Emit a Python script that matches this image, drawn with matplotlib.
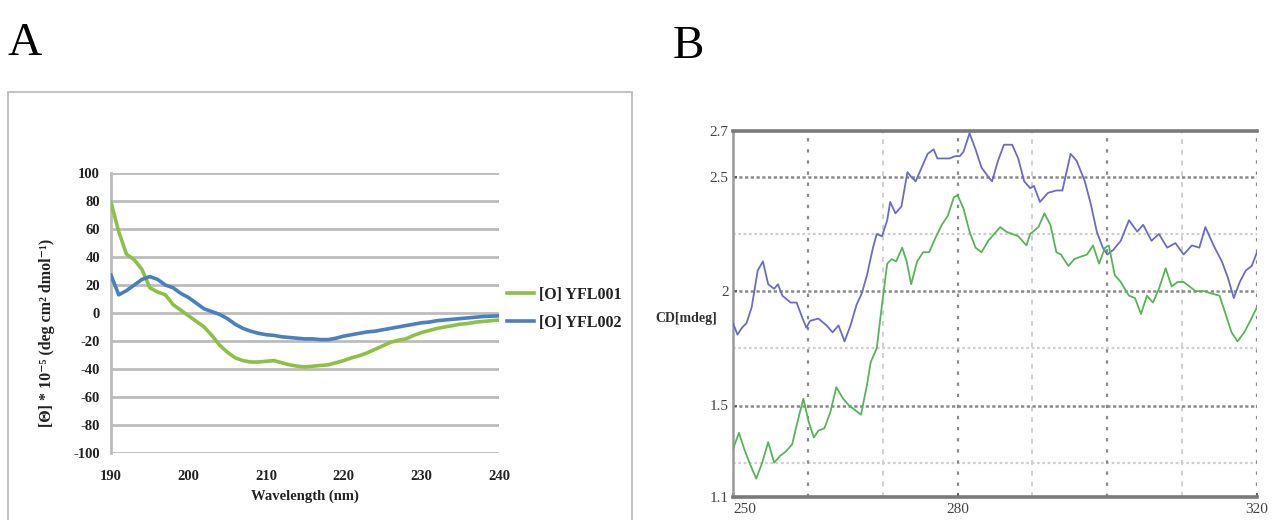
import matplotlib
matplotlib.use("Agg")
import matplotlib.pyplot as plt
from matplotlib import font_manager
from matplotlib.patches import Rectangle

plt.rcParams["axes.unicode_minus"] = False

# ---------------- Data: panel A ----------------
wl_a = list(range(190, 241))
yfl001 = [79, 58, 42, 38, 31, 18, 15, 13, 6, 2,
          -2, -6, -10, -16, -23, -28, -32, -34, -35, -35,
          -34.5, -34, -35.5, -37, -38, -38.5, -38, -37.5, -37, -35.5,
          -34, -32, -30.5, -28.5, -26, -23.5, -21, -19.5, -18.5, -16,
          -14, -12.5, -11, -10, -9, -8, -7.5, -6.5, -6, -5.5, -5]
yfl002 = [27, 13, 16, 20, 24, 26, 24, 20, 18, 14,
          11, 7, 3, 1, -1, -4, -8, -11, -13, -14.5,
          -15.5, -16, -17, -17.5, -18, -18.5, -18.5, -19, -19, -18,
          -16.5, -15.5, -14.5, -13.5, -13, -12, -11, -10, -9, -8,
          -7, -6.5, -5.5, -5, -4.5, -4, -3.5, -3, -2.5, -2.3, -2]
labels_a = ["[O] YFL001", "[O] YFL002"]
xticks_a = [190, 200, 210, 220, 230, 240]
yticks_a = [100, 80, 60, 40, 20, 0, -20, -40, -60, -80, -100]

# ---------------- Data: panel B ----------------
wl_blue = [250, 250.6, 251.2, 251.8, 252.5, 253.3, 254, 254.7, 255.5, 256, 256.6, 257.7,
           258.5, 259.3, 259.8, 260.3, 261.4, 262.5, 263.3, 264.1, 264.9, 265.7, 266.5,
           267.2, 267.9, 268.7, 269.2, 269.9, 270.6, 271, 271.7, 272.5, 273.3, 273.8,
           274.4, 275.2, 276, 276.8, 277.3, 278.1, 278.9, 279.7, 280.3, 280.8, 281.6,
           282.4, 283.2, 284.1, 284.6, 285.4, 286.2, 287.3, 288.1, 288.9, 289.7, 290.2,
           291, 292.1, 293.2, 294, 295.1, 295.9, 297, 297.8, 298.6, 299.4, 300, 300.8,
           301.8, 302.9, 304, 304.8, 305.9, 306.9, 308, 309.1, 310.2, 311.3, 312.3,
           313.1, 314.2, 315.3, 316.1, 316.9, 317.7, 318.5, 319.3, 320]
cd_blue = [1.86, 1.81, 1.84, 1.86, 1.93, 2.09, 2.13, 2.03, 2.01, 2.03, 1.98, 1.95,
           1.95, 1.88, 1.84, 1.87, 1.88, 1.85, 1.82, 1.85, 1.78, 1.85, 1.94,
           1.99, 2.07, 2.19, 2.25, 2.24, 2.31, 2.39, 2.34, 2.37, 2.52, 2.50,
           2.48, 2.54, 2.60, 2.62, 2.58, 2.58, 2.58, 2.59, 2.59, 2.61, 2.69,
           2.62, 2.54, 2.50, 2.48, 2.57, 2.64, 2.64, 2.58, 2.48, 2.45, 2.46,
           2.39, 2.43, 2.44, 2.44, 2.60, 2.57, 2.48, 2.38, 2.26, 2.19, 2.16, 2.18,
           2.22, 2.31, 2.26, 2.29, 2.22, 2.25, 2.19, 2.21, 2.16, 2.20, 2.19,
           2.28, 2.20, 2.13, 2.06, 1.97, 2.04, 2.09, 2.11, 2.17]
wl_green = [250, 250.8, 251.5, 252.2, 253.1, 253.9, 254.7, 255.5, 256.3, 257.1, 257.9,
            258.7, 259.4, 260.1, 260.8, 261.4, 262.2, 263, 263.8, 264.7, 265.5, 266.3,
            267.1, 267.9, 268.4, 269.2, 269.9, 270.6, 271.2, 271.8, 272.6, 273.2, 273.8,
            274.6, 275.4, 276.2, 277, 277.9, 278.7, 279.5, 280, 280.8, 281.6, 282.4,
            283.2, 284.1, 284.9, 285.7, 286.5, 287.3, 288.1, 289.2, 289.7, 290.8, 291.6,
            292.4, 293.2, 293.8, 294.8, 295.6, 296.4, 297.3, 298.1, 298.9, 299.7, 300.2,
            301, 301.8, 302.9, 303.7, 304.5, 305.3, 306.1, 306.9, 307.8, 308.6, 309.4,
            310.2, 311, 311.8, 312.9, 313.9, 315, 315.8, 316.6, 317.4, 318.3, 319.1, 320]
cd_green = [1.31, 1.38, 1.31, 1.25, 1.18, 1.25, 1.34, 1.25, 1.28, 1.30, 1.33,
            1.44, 1.53, 1.43, 1.36, 1.39, 1.40, 1.47, 1.58, 1.53, 1.50, 1.48,
            1.46, 1.59, 1.69, 1.75, 1.94, 2.12, 2.14, 2.13, 2.19, 2.13, 2.03,
            2.13, 2.17, 2.17, 2.23, 2.29, 2.33, 2.41, 2.42, 2.36, 2.26, 2.19,
            2.17, 2.22, 2.25, 2.28, 2.26, 2.25, 2.24, 2.20, 2.25, 2.28, 2.34,
            2.29, 2.17, 2.16, 2.11, 2.14, 2.15, 2.16, 2.20, 2.12, 2.19, 2.20,
            2.07, 2.04, 1.98, 1.97, 1.90, 1.98, 1.95, 2.01, 2.10, 2.02, 2.04,
            2.04, 2.02, 2.00, 2.00, 1.99, 1.98, 1.90, 1.82, 1.78, 1.82, 1.87, 1.93]
xticks_b = [250, 280, 320]
xticklabels_b = ["250", "280", "320"]
yticks_b = [1.1, 1.5, 2, 2.5, 2.7]
yticklabels_b = ["1.1", "1.5", "2", "2.5", "2.7"]
major_x_b = [260, 280, 300, 320]
minor_x_b = [270, 290, 310]
major_y_b = [1.5, 2, 2.5]
minor_y_b = [1.25, 1.75, 2.25]


def pick_font(cands):
    for c in cands:
        try:
            font_manager.findfont(font_manager.FontProperties(family=c),
                                  fallback_to_default=False)
            return c
        except Exception:
            pass
    return "DejaVu Serif"


SERIF = pick_font(["Liberation Serif", "DejaVu Serif"])
NARROW = pick_font(["Liberation Sans Narrow", "Liberation Serif"])

W, H = 1277, 520
fig = plt.figure(figsize=(W / 100, H / 100), dpi=100)
fig.patch.set_facecolor("white")

# Panel letters
fig.text(8 / W, 1 - 55 / H, "A", family=SERIF, fontsize=34, va="baseline", ha="left")
fig.text(673 / W, 1 - 58 / H, "B", family=SERIF, fontsize=34, va="baseline", ha="left")

# Frame around panel A
fig.patches.append(Rectangle((8 / W, -0.01), (632 - 8) / W, 1 - 92 / H + 0.01,
                             transform=fig.transFigure, fill=False,
                             edgecolor="#b8b8b8", lw=1.2))

# ---------------- Panel A ----------------
axA = fig.add_axes([111 / W, 1 - 453 / H, (499 - 111) / W, (453 - 173) / H])
axA.set_xlim(190, 240)
axA.set_ylim(-100, 100)
for yv in yticks_a:
    axA.axhline(yv, color="#bcbcbc", lw=2.0, zorder=0)
axA.plot(wl_a, yfl001, color="#8dc044", lw=2.6, label=labels_a[0], zorder=3)
axA.plot(wl_a, yfl002, color="#4a7fc0", lw=2.6, label=labels_a[1], zorder=3)
for s in ["top", "right", "bottom"]:
    axA.spines[s].set_visible(False)
axA.spines["left"].set_color("#bcbcbc")
axA.spines["left"].set_linewidth(2.0)
axA.set_xticks(xticks_a)
axA.set_yticks(yticks_a)
axA.tick_params(length=0, pad=8)
for t in axA.get_xticklabels() + axA.get_yticklabels():
    t.set_family(SERIF)
    t.set_fontweight("bold")
    t.set_fontsize(10.5)
    t.set_color("#222222")
axA.tick_params(axis="x", pad=12)
axA.set_xlabel("Wavelength (nm)", family=SERIF, fontweight="bold", fontsize=10.5,
               labelpad=5, color="#222222")
axA.set_ylabel("[Θ] * 10⁻⁵ (deg cm² dmol⁻¹)", family=[SERIF, "DejaVu Serif"],
               fontweight="bold", fontsize=11.5, labelpad=9, color="#222222")
axA.yaxis.set_label_coords(-0.145, 0.43)
leg = axA.legend(loc="center left", bbox_to_anchor=(1.02, 0.515), frameon=False,
                 handlelength=1.7, handletextpad=0.3, borderaxespad=0, borderpad=0,
                 labelspacing=0.75,
                 prop={"family": SERIF, "weight": "bold", "size": 11.5})
for t in leg.get_texts():
    t.set_color("#222222")

# ---------------- Panel B ----------------
axB = fig.add_axes([733 / W, 1 - 497 / H, (1257 - 733) / W, (497 - 131) / H])
axB.set_xlim(250, 320)
axB.set_ylim(1.1, 2.7)
for yv in minor_y_b:
    axB.axhline(yv, color="#d0d0d0", lw=1.6, ls=(0, (1.2, 1.2)), zorder=0)
for xv in minor_x_b:
    axB.axvline(xv, color="#d0d0d0", lw=1.4, ls=(0, (2.5, 3)), zorder=0)
for yv in major_y_b:
    axB.axhline(yv, color="#8a8a8a", lw=1.8, ls=(0, (1.3, 1.0)), zorder=1)
for xv in major_x_b:
    axB.axvline(xv, color="#8a8a8a", lw=1.6, ls=(0, (1.5, 3.5)), zorder=1)
axB.plot(wl_blue, cd_blue, color="#6b6bc8", lw=1.3, zorder=3)
axB.plot(wl_green, cd_green, color="#58b458", lw=1.3, zorder=3)
axB.spines["right"].set_visible(False)
axB.spines["top"].set_color("#7a7a7a")
axB.spines["top"].set_linewidth(2.6)
axB.spines["bottom"].set_color("#7a7a7a")
axB.spines["bottom"].set_linewidth(2.6)
axB.spines["left"].set_color("#9a9a9a")
axB.spines["left"].set_linewidth(1.8)
axB.set_xticks(xticks_b)
axB.set_xticklabels(xticklabels_b)
axB.set_yticks(yticks_b)
axB.set_yticklabels(yticklabels_b)
axB.tick_params(axis="both", length=3, width=1.2, color="#555555", direction="in")
axB.tick_params(axis="x", pad=4)
axB.tick_params(axis="y", pad=3)
for t in axB.get_xticklabels() + axB.get_yticklabels():
    t.set_family(NARROW)
    t.set_fontsize(11)
    t.set_color("#444444")
axB.get_xticklabels()[0].set_horizontalalignment("left")
axB.set_ylabel("CD[mdeg]", family=NARROW, fontweight="bold", fontsize=10,
               rotation=0, color="#333333")
axB.yaxis.set_label_coords(-0.09, 0.47)

fig.savefig("out.png", dpi=100, facecolor="white")
